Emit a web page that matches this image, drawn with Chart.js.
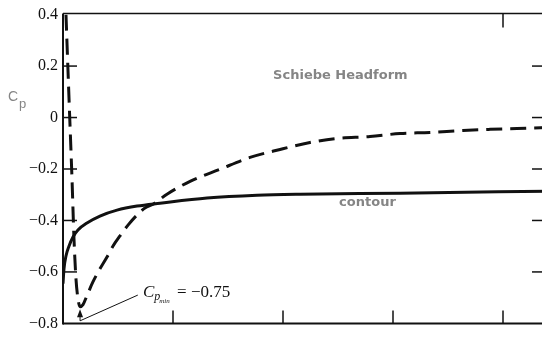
<!DOCTYPE html>
<html>
<head>
<meta charset="utf-8">
<script src="https://cdn.jsdelivr.net/npm/chart.js@4/dist/chart.umd.min.js"></script>
<style>
  html, body { margin: 0; padding: 0; background: #fff; overflow: hidden; }
  #wrap { width: 552px; height: 338px; }
</style>
</head>
<body>
<div id="wrap"><canvas id="chart" width="552" height="338"></canvas></div>
<script>
// -------------------------------
// Data
// -------------------------------
const yTicks = [0.4, 0.2, 0, -0.2, -0.4, -0.6, -0.8];
const innerYTicks = [0.2, 0, -0.2, -0.4, -0.6];
const bottomXTicks = [1, 2, 3, 4];
const topXTicks = [4];

// dashed curve (Schiebe headform)
const headX = [0.027, 0.055, 0.082, 0.100, 0.118, 0.136, 0.155, 0.182, 0.218, 0.273, 0.336, 0.400, 0.455,
  0.518, 0.591, 0.673, 0.745, 0.818, 0.945, 1.155, 1.427, 1.700, 1.973, 2.245, 2.491, 2.791, 3.064,
  3.336, 3.636, 3.882, 4.127, 4.4];
const headY = [0.4, 0.07, -0.24, -0.472, -0.627, -0.704, -0.735, -0.727, -0.692, -0.638, -0.588, -0.542, -0.499,
  -0.46, -0.418, -0.379, -0.352, -0.337, -0.298, -0.248, -0.201, -0.155, -0.124, -0.097, -0.081, -0.074, -0.062,
  -0.058, -0.05, -0.046, -0.043, -0.039];

// solid curve (contour)
const contourX = [0, 0.009, 0.027, 0.055, 0.091, 0.136, 0.218, 0.336, 0.491, 0.673, 0.882, 1.309, 1.764, 2.155, 3.064, 4.4];
const contourY = [-0.646, -0.588, -0.538, -0.499, -0.464, -0.437, -0.41, -0.383, -0.36, -0.344, -0.333, -0.313,
  -0.302, -0.298, -0.294, -0.286];

const toPoints = (xs, ys) => xs.map((x, i) => ({ x: x, y: ys[i] }));

function fmt(v) {
  const r = Math.round(v * 10) / 10;
  if (r === 0) return "0";
  return r < 0 ? "\u2212" + Math.abs(r) : String(r);
}

// -------------------------------
// Frame, inward ticks and notes
// -------------------------------
const decorations = {
  id: "decorations",
  afterDraw(chart) {
    const ctx = chart.ctx;
    const a = chart.chartArea;
    const xs = chart.scales.x;
    const ys = chart.scales.y;
    ctx.save();
    ctx.strokeStyle = "#111";

    // frame
    ctx.lineWidth = 1.5;
    ctx.beginPath(); ctx.moveTo(a.left, a.top - 1); ctx.lineTo(a.right, a.top - 1); ctx.stroke();
    ctx.lineWidth = 2;
    ctx.beginPath(); ctx.moveTo(a.left, a.top - 1); ctx.lineTo(a.left, a.bottom + 1); ctx.stroke();
    ctx.beginPath(); ctx.moveTo(a.left, a.bottom); ctx.lineTo(a.right, a.bottom); ctx.stroke();
    ctx.beginPath(); ctx.moveTo(a.right, a.top - 1); ctx.lineTo(a.right, a.bottom); ctx.stroke();

    // inward ticks
    ctx.lineWidth = 1.5;
    innerYTicks.forEach((v) => {
      const y = ys.getPixelForValue(v);
      ctx.beginPath(); ctx.moveTo(a.left, y); ctx.lineTo(a.left + 14, y); ctx.stroke();
      ctx.beginPath(); ctx.moveTo(a.right, y); ctx.lineTo(a.right - 15, y); ctx.stroke();
    });
    bottomXTicks.forEach((v) => {
      const x = xs.getPixelForValue(v);
      ctx.beginPath(); ctx.moveTo(x, a.bottom); ctx.lineTo(x, a.bottom - 13); ctx.stroke();
    });
    topXTicks.forEach((v) => {
      const x = xs.getPixelForValue(v);
      ctx.beginPath(); ctx.moveTo(x, a.top - 1); ctx.lineTo(x, a.top + 13); ctx.stroke();
    });

    // Cp_min pointer
    const tipX = xs.getPixelForValue(0.155);
    const baseY = ys.getPixelForValue(-0.79);
    const tipY = ys.getPixelForValue(-0.745);
    ctx.lineWidth = 1;
    ctx.beginPath();
    ctx.moveTo(xs.getPixelForValue(0.68), ys.getPixelForValue(-0.69));
    ctx.lineTo(tipX, baseY);
    ctx.lineTo(tipX, tipY + 4);
    ctx.stroke();
    ctx.fillStyle = "#111";
    ctx.beginPath();
    ctx.moveTo(tipX, tipY);
    ctx.lineTo(tipX - 3, tipY + 8);
    ctx.lineTo(tipX + 3, tipY + 8);
    ctx.closePath();
    ctx.fill();

    // Cp_min label
    let tx = xs.getPixelForValue(0.727);
    const ty = ys.getPixelForValue(-0.696);
    ctx.textBaseline = "alphabetic";
    ctx.textAlign = "left";
    ctx.font = "italic 17px 'Liberation Serif'";
    ctx.fillText("C", tx, ty);
    tx += ctx.measureText("C").width;
    ctx.font = "italic 12px 'Liberation Serif'";
    ctx.fillText("p", tx, ty + 3);
    const pw = ctx.measureText("p").width;
    ctx.font = "italic 7px 'Liberation Serif'";
    ctx.fillText("min", tx + pw - 1, ty + 6);
    tx += pw + ctx.measureText("min").width + 2;
    ctx.font = "17px 'Liberation Serif'";
    ctx.fillText(" = \u22120.75", tx, ty);

    // grey notes
    ctx.fillStyle = "#858585";
    ctx.textBaseline = "middle";
    ctx.font = "bold 13px 'DejaVu Sans'";
    ctx.fillText("Schiebe Headform", xs.getPixelForValue(1.91), ys.getPixelForValue(0.162));
    ctx.fillText("contour", xs.getPixelForValue(2.51), ys.getPixelForValue(-0.329));

    // axis name c_p
    ctx.font = "14px 'Liberation Sans'";
    ctx.fillText("C", 8, 97);
    ctx.font = "13px 'Liberation Sans'";
    ctx.fillText("p", 19, 104);
    ctx.restore();
  },
};

// -------------------------------
// Build chart
// -------------------------------
new Chart(document.getElementById("chart"), {
  type: "line",
  data: {
    datasets: [
      {
        label: "Schiebe Headform",
        data: toPoints(headX, headY),
        borderColor: "#111",
        borderWidth: 3,
        borderDash: [16, 8],
        pointRadius: 0,
        fill: false,
        cubicInterpolationMode: "monotone",
      },
      {
        label: "contour",
        data: toPoints(contourX, contourY),
        borderColor: "#111",
        borderWidth: 3,
        pointRadius: 0,
        fill: false,
        cubicInterpolationMode: "monotone",
      },
    ],
  },
  options: {
    responsive: false,
    animation: false,
    devicePixelRatio: 1,
    layout: { padding: { top: 14, right: 5, bottom: 13, left: 0 } },
    plugins: { legend: { display: false }, tooltip: { enabled: false } },
    scales: {
      x: {
        type: "linear",
        min: 0,
        max: 4.4,
        display: false,
      },
      y: {
        min: -0.8,
        max: 0.4,
        afterFit: (s) => { s.width = 63; },
        afterBuildTicks: (s) => { s.ticks = yTicks.map((v) => ({ value: v })); },
        grid: { display: false, drawTicks: false },
        border: { display: false },
        ticks: {
          padding: 5,
          color: "#111",
          font: { family: "'Liberation Serif'", size: 16 },
          callback: (v) => fmt(v),
        },
      },
    },
  },
  plugins: [decorations],
});
</script>
</body>
</html>
